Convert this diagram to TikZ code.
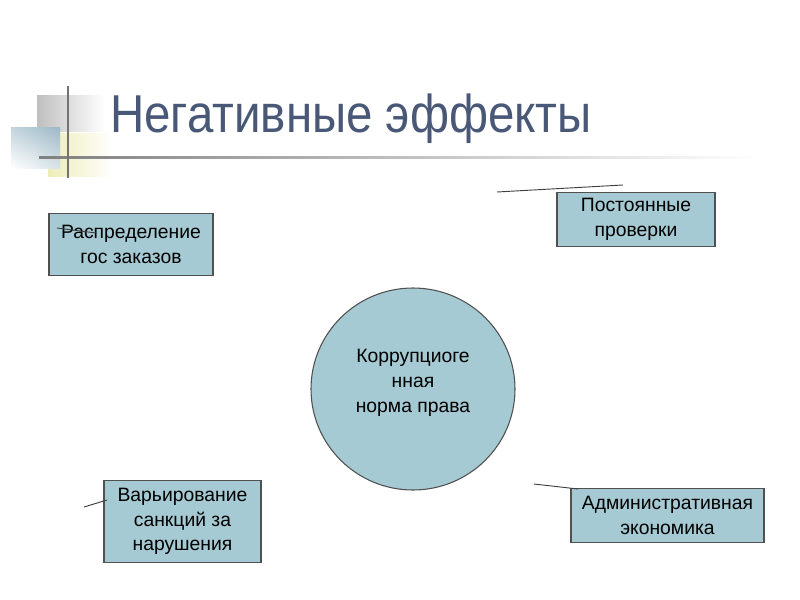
\documentclass[tikz,border=0pt]{standalone}
\usepackage{fontspec}
\setmainfont{Liberation Sans}
\usetikzlibrary{shapes.geometric,shadings}
\definecolor{boxfill}{HTML}{A5CAD3}
\definecolor{boxline}{HTML}{505050}
\definecolor{titlecol}{HTML}{4A5878}
\definecolor{decoblue}{HTML}{9CB8C6}
\definecolor{decoyellow}{HTML}{EEEDB8}
\tikzset{
  boxfont/.style={font=\fontsize{14.5}{18.6}\selectfont},
  effbox/.style={draw=boxline, fill=boxfill, line width=0.8pt, inner sep=0pt, align=center, boxfont},
  stroke/.style={draw=black!75, line width=0.7pt},
}
\begin{document}
\begin{tikzpicture}[x=0.75pt,y=-0.75pt]
\useasboundingbox (0,0) rectangle (800,600);
% decoration
\shade[left color=black!25, right color=white] (37,95) rectangle (105,131);
\shade[left color=decoyellow, right color=white] (48,133) rectangle (112,176);
\shade[upper right=decoblue, lower left=white, upper left=decoblue!60!white, lower right=decoblue!40!white] (11,127) rectangle (60,168);
\shade[left color=black!50, right color=white] (39,156) rectangle (760,158.5);
\draw[black!55, line width=1.1pt] (68,86) -- (68,178);
\node[anchor=base west, text=titlecol, font=\fontsize{40}{48}\selectfont, inner sep=0pt] (title) at (110,132) {\scalebox{0.89}[1]{Негативные эффекты}};
% center
\node[ellipse, draw=boxline, fill=boxfill, line width=0.8pt, minimum width=153pt, minimum height=151.5pt, inner sep=0pt] (circ) at (413,389) {};
\node[align=center, boxfont] (ctext) at (413,383) {Коррупциоге\\нная\\норма права};
% boxes
\node[effbox, minimum width=123pt, minimum height=46pt] (b1) at (131,244.5) {Распределение\\гос заказов};
\node[effbox, minimum width=118.5pt, minimum height=40pt] (b2) at (636,219.5) {Постоянные\\проверки};
\node[effbox, minimum width=117.75pt, minimum height=62pt] (b3) at (182.5,521.5) {Варьирование\\санкций за\\нарушения};
\node[effbox, minimum width=144.75pt, minimum height=41pt] (b4) at (667.5,515.5) {Административная\\экономика};
% stray lines
\coordinate (l1a) at (57,228); \coordinate (l1b) at (96,233);
\draw[stroke] (l1a) -- (l1b);
\coordinate (l2a) at (497,192); \coordinate (l2b) at (623,185);
\draw[stroke] (l2a) -- (l2b);
\coordinate (l3a) at (84,507); \coordinate (l3b) at (107,500);
\draw[stroke] (l3a) -- (l3b);
\coordinate (l4a) at (534,484); \coordinate (l4b) at (578,489);
\draw[stroke] (l4a) -- (l4b);
\end{tikzpicture}
\end{document}
